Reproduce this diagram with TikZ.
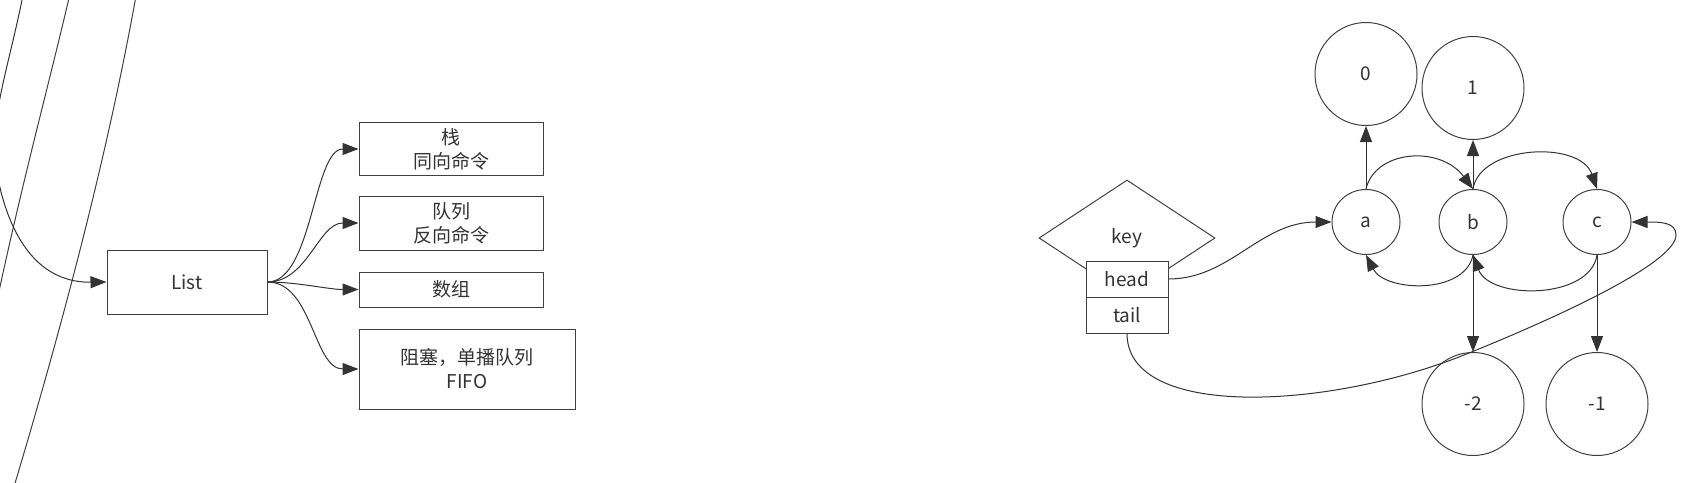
\documentclass[tikz,border=0pt]{standalone}
\usepackage{fontspec}
\setmainfont{Noto Sans CJK SC}
\usetikzlibrary{shapes.geometric, arrows.meta}
\begin{document}
\begin{tikzpicture}[x=1pt,y=-1pt,
  line width=1pt,
  every node/.style={text=black!80, font=\fontsize{19}{24}\selectfont},
  box/.style={draw=black!75, fill=white, rectangle, inner sep=0pt, align=center},
  ell/.style={draw=black!75, ellipse, inner sep=0pt},
  conn/.style={draw=black!80, -{Triangle[length=16pt,width=12pt]}},
  free/.style={draw=black!75},
]
\useasboundingbox (0,0) rectangle (1695,482);

% free lines on the left
\coordinate (src) at (22,0);
\coordinate (b1) at (69,-2);
\coordinate (b2) at (-6,315);
\coordinate (c1) at (136,-4);
\coordinate (c2) at (13,490);
\draw[free] (b1) .. controls (50,80) and (20,190) .. (b2);
\draw[free] (c1) .. controls (110,140) and (70,300) .. (c2);

% left nodes
\node[box, minimum width=160pt, minimum height=64pt] (list) at (187,282) {List};
\node[box, minimum width=184pt, minimum height=53pt] (stack) at (451,149) {栈\\同向命令};
\node[box, minimum width=184pt, minimum height=54pt] (queue) at (451,223) {队列\\反向命令};
\node[box, minimum width=184pt, minimum height=35pt] (arr) at (451,289.5) {数组};
\node[box, minimum width=216pt, minimum height=80pt] (block) at (467,369) {阻塞，单播队列\\FIFO};

\draw[conn] (src) .. controls (10,60) and (-10,120) .. (-5,160) .. controls (0,200) and (20,283) .. (list.west);
\draw[conn] (list.east) .. controls +(45,0) and +(-45,0) .. (stack.west);
\draw[conn] (list.east) .. controls +(40,0) and +(-40,0) .. (queue.west);
\draw[conn] (list.east) .. controls +(30,0) and +(-30,0) .. (arr.west);
\draw[conn] (list.east) .. controls +(45,0) and +(-45,0) .. (block.west);

% right nodes
\node[draw=black!75, diamond, minimum width=176pt, minimum height=116pt, inner sep=0pt] (key) at (1127,238) {key};
\node[box, minimum width=82pt, minimum height=36pt] (head) at (1127,279) {head};
\node[box, minimum width=82pt, minimum height=36pt] (tail) at (1127,315) {tail};

\node[ell, minimum width=68pt, minimum height=65pt] (a) at (1366,222) {a};
\node[ell, minimum width=68pt, minimum height=65pt] (b) at (1473,222) {b};
\node[ell, minimum width=68pt, minimum height=65pt] (c) at (1597,222) {c};
\node[ell, minimum width=102pt, minimum height=103pt] (n0) at (1366,74) {0};
\node[ell, minimum width=102pt, minimum height=103pt] (n1) at (1473,88) {1};
\node[ell, minimum width=102pt, minimum height=103pt] (m2) at (1473,404) {-2};
\node[ell, minimum width=102pt, minimum height=103pt] (m1) at (1597,404) {-1};

\draw[conn] (head.east) .. controls (1230,279) and (1260,222) .. (a.west);
\draw[conn] (a.north) -- (n0.south);
\draw[conn] (a.north) .. controls (1375,150) and (1440,145) .. (b.north);
\draw[conn] (b.north) -- (n1.south);
\draw[conn] (b.north) .. controls (1480,145) and (1580,140) .. (c.north);
\draw[conn] (b.south) .. controls (1465,295) and (1385,292) .. (a.south);
\draw[conn] (c.south) .. controls (1590,300) and (1490,300) .. (b.south);
\draw[conn] (b.south) -- (m2.north);
\draw[conn] (c.south) -- (m1.north);
\draw[conn] (tail.south) .. controls (1127,420) and (1330,410) .. (1469,353)
  .. controls (1580,308) and (1676,260) .. (1676,235)
  .. controls (1676,222) and (1660,222) .. (c.east);
\end{tikzpicture}
\end{document}
